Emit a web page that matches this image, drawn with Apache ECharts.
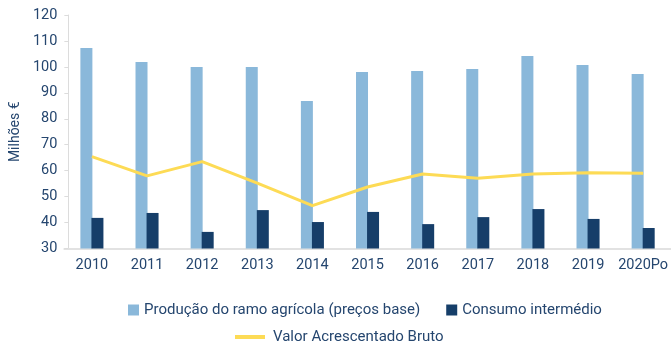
<!DOCTYPE html>
<html>
<head>
<meta charset="utf-8">
<script src="https://cdn.jsdelivr.net/npm/echarts@6/dist/echarts.min.js"></script>
<style>
  html, body { margin: 0; padding: 0; background: #ffffff; }
  #chart { width: 671px; height: 342px; }
</style>
</head>
<body>
<div id="chart"></div>
<script>
// Agricultural branch accounts, million euros
const years = ['2010', '2011', '2012', '2013', '2014', '2015', '2016', '2017', '2018', '2019', '2020Po'];
const producao = [107.3, 101.9, 100.0, 100.0, 86.9, 98.0, 98.4, 99.2, 104.2, 100.7, 97.3];
const consumo = [41.8, 43.7, 36.4, 44.8, 40.2, 44.1, 39.4, 42.1, 45.2, 41.4, 37.9];
const vab = [65.4, 58.0, 63.5, 55.2, 46.5, 53.7, 58.7, 57.1, 58.7, 59.2, 59.0];

const nameProducao = 'Produção do ramo agrícola (preços base)';
const nameConsumo = 'Consumo intermédio';
const nameVab = 'Valor Acrescentado Bruto';

const textColor = '#25466f';
const font = 'Roboto, "Noto Sans", sans-serif';

const chart = echarts.init(document.getElementById('chart'), null, { renderer: 'canvas' });

chart.setOption({
  animation: false,
  backgroundColor: '#ffffff',
  textStyle: { fontFamily: font, color: textColor },
  grid: { left: 62, right: 0, top: 15, bottom: 93.5, containLabel: false },
  legend: [
    {
      data: [nameProducao, nameConsumo],
      left: 128, top: 302, padding: 0,
      itemWidth: 11, itemHeight: 11, itemGap: 26,
      icon: 'rect',
      textStyle: { fontSize: 15, lineHeight: 16, color: textColor, fontFamily: font }
    },
    {
      data: [nameVab],
      left: 235, top: 329, padding: 0,
      itemWidth: 30, itemHeight: 4,
      icon: 'rect',
      textStyle: { fontSize: 15, lineHeight: 16, color: textColor, fontFamily: font, padding: [0, 0, 0, 3] }
    }
  ],
  xAxis: {
    type: 'category',
    data: years,
    axisLine: { lineStyle: { color: '#e2e2e2', width: 2 } },
    axisTick: { show: false },
    axisLabel: { interval: 0, fontSize: 14.5, color: textColor, margin: 9, fontFamily: font }
  },
  yAxis: {
    type: 'value',
    min: 30, max: 120, interval: 10,
    offset: -4,
    name: 'Milhões €',
    nameLocation: 'middle',
    nameGap: 45,
    nameRotate: 90,
    nameTextStyle: { fontSize: 14, color: textColor, fontFamily: font },
    axisLine: { show: true, lineStyle: { color: '#dcdcdc', width: 1 } },
    axisTick: { show: true, length: 4, lineStyle: { color: '#dcdcdc' } },
    splitLine: { show: false },
    axisLabel: { fontSize: 14.5, color: textColor, margin: 11, fontFamily: font }
  },
  series: [
    {
      name: nameProducao,
      type: 'bar',
      data: producao,
      barWidth: 12,
      barGap: '-8%',
      itemStyle: { color: '#8ab8da' }
    },
    {
      name: nameConsumo,
      type: 'bar',
      data: consumo,
      barWidth: 12,
      barGap: '-8%',
      itemStyle: { color: '#163e69' }
    },
    {
      name: nameVab,
      type: 'line',
      data: vab,
      symbol: 'none',
      lineStyle: { color: '#fddb55', width: 3 },
      itemStyle: { color: '#fddb55' },
      z: 5
    }
  ]
});
</script>
</body>
</html>
